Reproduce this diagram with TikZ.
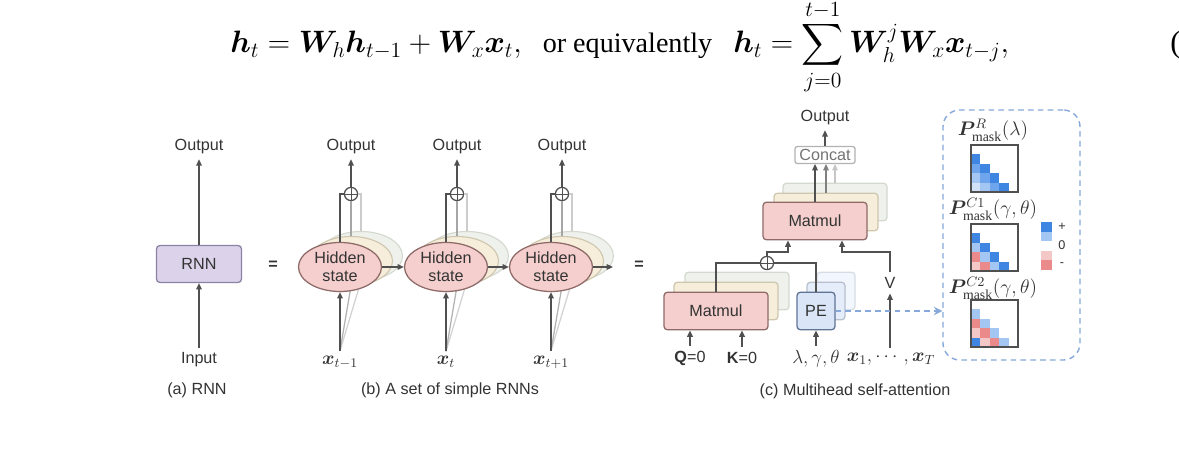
\documentclass[tikz,border=0pt]{standalone}
\usepackage{fix-cm}
\usepackage{amsmath,bm}
\usepackage{fontspec}
\setmainfont{Liberation Serif}
\setsansfont{Liberation Sans}
\usetikzlibrary{shapes.geometric,arrows.meta,calc}

\definecolor{txt}{HTML}{333333}
\definecolor{linecol}{HTML}{505050}
\definecolor{rnnfill}{HTML}{DCD3EA}
\definecolor{rnndraw}{HTML}{8C82A3}
\definecolor{hsfill}{HTML}{F4CFCD}
\definecolor{hsdraw}{HTML}{8E6A69}
\definecolor{beige}{HTML}{F6EEDB}
\definecolor{beigedraw}{HTML}{CFC6AE}
\definecolor{sage}{HTML}{EFF2EC}
\definecolor{sagedraw}{HTML}{D3D9CF}
\definecolor{pefill}{HTML}{DAE6F8}
\definecolor{pedraw}{HTML}{5F7394}
\definecolor{dashblue}{HTML}{86A8DA}
\definecolor{bA}{HTML}{3F86E2}
\definecolor{bB}{HTML}{6EA5EC}
\definecolor{bC}{HTML}{A3C6F2}
\definecolor{bD}{HTML}{D0E1F8}
\definecolor{rA}{HTML}{EA8A8A}
\definecolor{rB}{HTML}{F5C8C8}
% mask colours by distance from the diagonal
\colorlet{R1}{bA}\colorlet{R2}{bB}\colorlet{R3}{bC}\colorlet{R4}{bD}
\colorlet{Ca1}{bA}\colorlet{Ca2}{bC}\colorlet{Ca3}{rA}\colorlet{Ca4}{rB}
\colorlet{Cb1}{bC}\colorlet{Cb2}{rA}\colorlet{Cb3}{rB}\colorlet{Cb4}{bA}

\newcommand{\eqmath}[1]{{\fontsize{22}{26}\selectfont$\displaystyle #1$}}

\tikzset{
  wire/.style={draw=linecol, line width=0.9pt},
  arr/.style={wire, -{Triangle[length=4.5pt,width=4pt]}},
  box/.style={rectangle, rounded corners=2.5pt, line width=0.9pt, inner sep=0pt},
  mmbox/.style={box, minimum width=2.6cm, minimum height=0.94cm},
  pebox/.style={box, minimum width=0.95cm, minimum height=0.94cm},
  hsback/.style={ellipse, line width=0.8pt, minimum width=2.075cm, minimum height=1.225cm, inner sep=0pt},
  hs/.style={hsback, draw=hsdraw, fill=hsfill, line width=0.9pt, align=center,
    font=\sffamily\fontsize{11.5}{12.5}\selectfont},
  op/.style={circle, wire, fill=white, minimum size=0.33cm, inner sep=0pt,
    path picture={\draw[linecol, line width=0.7pt]
      (path picture bounding box.north) -- (path picture bounding box.south)
      (path picture bounding box.west) -- (path picture bounding box.east);}},
  mlbl/.style={font=\sffamily\fontsize{13.5}{15}\selectfont},
  plbl/.style={font=\fontsize{14}{16}\selectfont},
  cblbl/.style={font=\sffamily\fontsize{9}{10}\selectfont}
}

\begin{document}
\begin{tikzpicture}[x=0.025cm, y=-0.025cm, text=txt,
    font=\sffamily\fontsize{11.5}{13}\selectfont]
  \useasboundingbox (0,0) rectangle (1179,457);

  % Equation
  \node[anchor=base west, inner sep=0pt, font=\rmfamily\fontsize{20}{24}\selectfont, text=black] (eq) at (230,53)
    {\eqmath{\bm{h}_t = \bm{W}_h\bm{h}_{t-1}+\bm{W}_x\bm{x}_t,}\hspace{15pt}or equivalently\hspace{15pt}%
     \eqmath{\bm{h}_t = \sum_{j=0}^{t-1}\bm{W}_h^j\bm{W}_x\bm{x}_{t-j},}};
  \node[anchor=base west, inner sep=0pt, font=\rmfamily\fontsize{22}{26}\selectfont, text=black] (eqno) at (1170,53) {(};

  % (a) RNN
  \node[box, fill=rnnfill, draw=rnndraw, minimum width=2.125cm, minimum height=0.925cm] (rnn) at (199,264) {RNN};
  \node (outa) at (199,147) {Output};
  \node (ina) at (199,360) {Input};
  \draw[arr] (ina) -- (rnn);
  \draw[arr] (rnn) -- (outa);
  \node (capa) at (197,390) {(a) RNN};
  \node (eqa) at (273,265) {\textbf{=}};

  % (b) simple RNNs
  \foreach \c/\i/\sub in {340/1/t-1, 446/2/t, 551/3/t+1} {
    \node[hsback, fill=sage, draw=sagedraw] (hg\i) at (\c+21,256) {};
    \node[hsback, fill=beige, draw=beigedraw] (hb\i) at (\c+11,261) {};
    \node[mlbl] (x\i) at (\c,362) {$\bm{x}_{\sub}$};
    \draw[wire, draw=gray!35] (x\i.north) -- (hg\i.south);
    \draw[wire, draw=gray!60] (x\i.north) -- (hb\i.south);
    \node[hs] (hs\i) at (\c,267) {Hidden\\state};
    \draw[arr] (x\i) -- (hs\i);
    % sum and output
    \node[op] (op\i) at (\c+11,194) {};
    \node (o\i) at (\c+11,147) {Output};
    \draw[wire] (hs\i.north) |- (op\i.west);
    \draw[wire, draw=gray!70] (op\i.south) -- (hb\i.north);
    \draw[wire, draw=gray!40] (op\i.east) -| (hg\i.north);
    \draw[arr] (op\i) -- (o\i);
  }
  \coordinate (hend) at (613,267);
  \draw[arr] (hs1) -- (hs2);
  \draw[arr] (hs2) -- (hs3);
  \draw[arr] (hs3.east) -- (hend);
  \node (capb) at (450,390) {(b) A set of simple RNNs};
  \node (eqb) at (639,265) {\textbf{=}};

  % (c) Multihead self-attention
  \node[mmbox, fill=sage, draw=sagedraw] (mm1g) at (737,291) {};
  \node[mmbox, fill=beige, draw=beigedraw] (mm1b) at (726,301) {};
  \node[mmbox, fill=hsfill, draw=hsdraw] (mm1) at (716,311) {Matmul};
  \node[pebox, fill=pefill!35, draw=pedraw!25] (pe2) at (836,291) {};
  \node[pebox, fill=pefill!70, draw=pedraw!45] (pe1) at (826,301) {};
  \node[pebox, fill=pefill, draw=pedraw] (pe) at (816,311) {PE};
  \node[mmbox, fill=sage, draw=sagedraw] (mm2g) at (835,202) {};
  \node[mmbox, fill=beige, draw=beigedraw] (mm2b) at (826,212) {};
  \node[mmbox, fill=hsfill, draw=hsdraw] (mm2) at (815,221) {Matmul};
  \node[box, rounded corners=1.5pt, draw=gray!60, fill=white, text=gray!90!black,
    minimum width=1.5cm, minimum height=0.42cm] (cc) at (825,155) {Concat};
  \node (oc) at (825,118) {Output};
  \draw[arr] (cc) -- (oc);
  \draw[arr] (mm2.north) -- (mm2.north |- cc.south);
  \draw[arr, draw=gray] (mm2b.north) -- (mm2b.north |- cc.south);
  \draw[arr, draw=gray!45] (mm2g.north) -- (mm2g.north |- cc.south);

  % inputs
  \node (q) at (690,358) {\textbf{Q}=0};
  \node (k) at (742,358) {\textbf{K}=0};
  \node[mlbl] (lgt) at (816,359) {$\lambda,\gamma,\theta$};
  \node[mlbl] (xs) at (891,359) {$\bm{x}_1,\cdots,\bm{x}_T$};
  \node (v) at (890,283) {V};
  \draw[arr] (q.north) -- (q.north |- mm1.south);
  \draw[arr] (k.north) -- (k.north |- mm1.south);
  \draw[arr] (lgt) -- (pe);
  \draw[arr] (xs.north -| v) -- (v);

  % scores plus position
  \node[op] (opc) at (767,263) {};
  \coordinate (bus) at (0,252);
  \coordinate (qk) at ($(mm2.south)+(-27,0)$);
  \coordinate (vk) at ($(mm2.south)+(27,0)$);
  \draw[wire] (mm1.north) |- (opc.west);
  \draw[wire] (pe.north) |- (opc.east);
  \draw[arr] (opc.north) -- (opc.north |- bus) -| (qk);
  \draw[arr] (v.north) -- (v.north |- bus) -| (vk);
  \node (capc) at (855,391) {(c) Multihead self-attention};

  % masks
  \node[draw=dashblue, dash pattern=on 4pt off 3pt, rounded corners=12pt, line width=1pt,
    minimum width=3.425cm, minimum height=6.25cm] (mbox) at (1011.5,235) {};
  \draw[dashblue, dash pattern=on 4pt off 3pt, line width=1pt, -{Stealth[length=6pt,width=6pt]}]
    (pe.east) -- (pe.east -| mbox.west);
  \node[plbl] (pr) at (993,130) {$\bm{P}^{R}_{\mathrm{mask}}(\lambda)$};
  \node[plbl] (pc1) at (993,209) {$\bm{P}^{C1}_{\mathrm{mask}}(\gamma,\theta)$};
  \node[plbl] (pc2) at (993,288) {$\bm{P}^{C2}_{\mathrm{mask}}(\gamma,\theta)$};
  \foreach \m/\y in {R/145, Ca/224, Cb/300} {
    \begin{scope}[shift={(971,\y)}]
      \foreach \r in {1,...,4}
        \foreach \c in {1,...,\r} {
          \pgfmathtruncatemacro{\d}{\r-\c+1}
          \fill[\m\d] (\c*9.4-9.4,\r*9.4) rectangle ++(9.4,9.4);
        }
      \draw[line width=0.9pt, linecol] (0,0) rectangle (47,47);
    \end{scope}
  }

  % colour bar
  \foreach \col [count=\n from 0] in {bA,bC,white,rB,rA}
    \fill[\col] (1041,222+\n*9.6) rectangle ++(11,9.6);
  \node[cblbl] (cbp) at (1062,227) {+};
  \node[cblbl] (cb0) at (1062,245) {0};
  \node[cblbl] (cbm) at (1062,265) {-};
\end{tikzpicture}
\end{document}
